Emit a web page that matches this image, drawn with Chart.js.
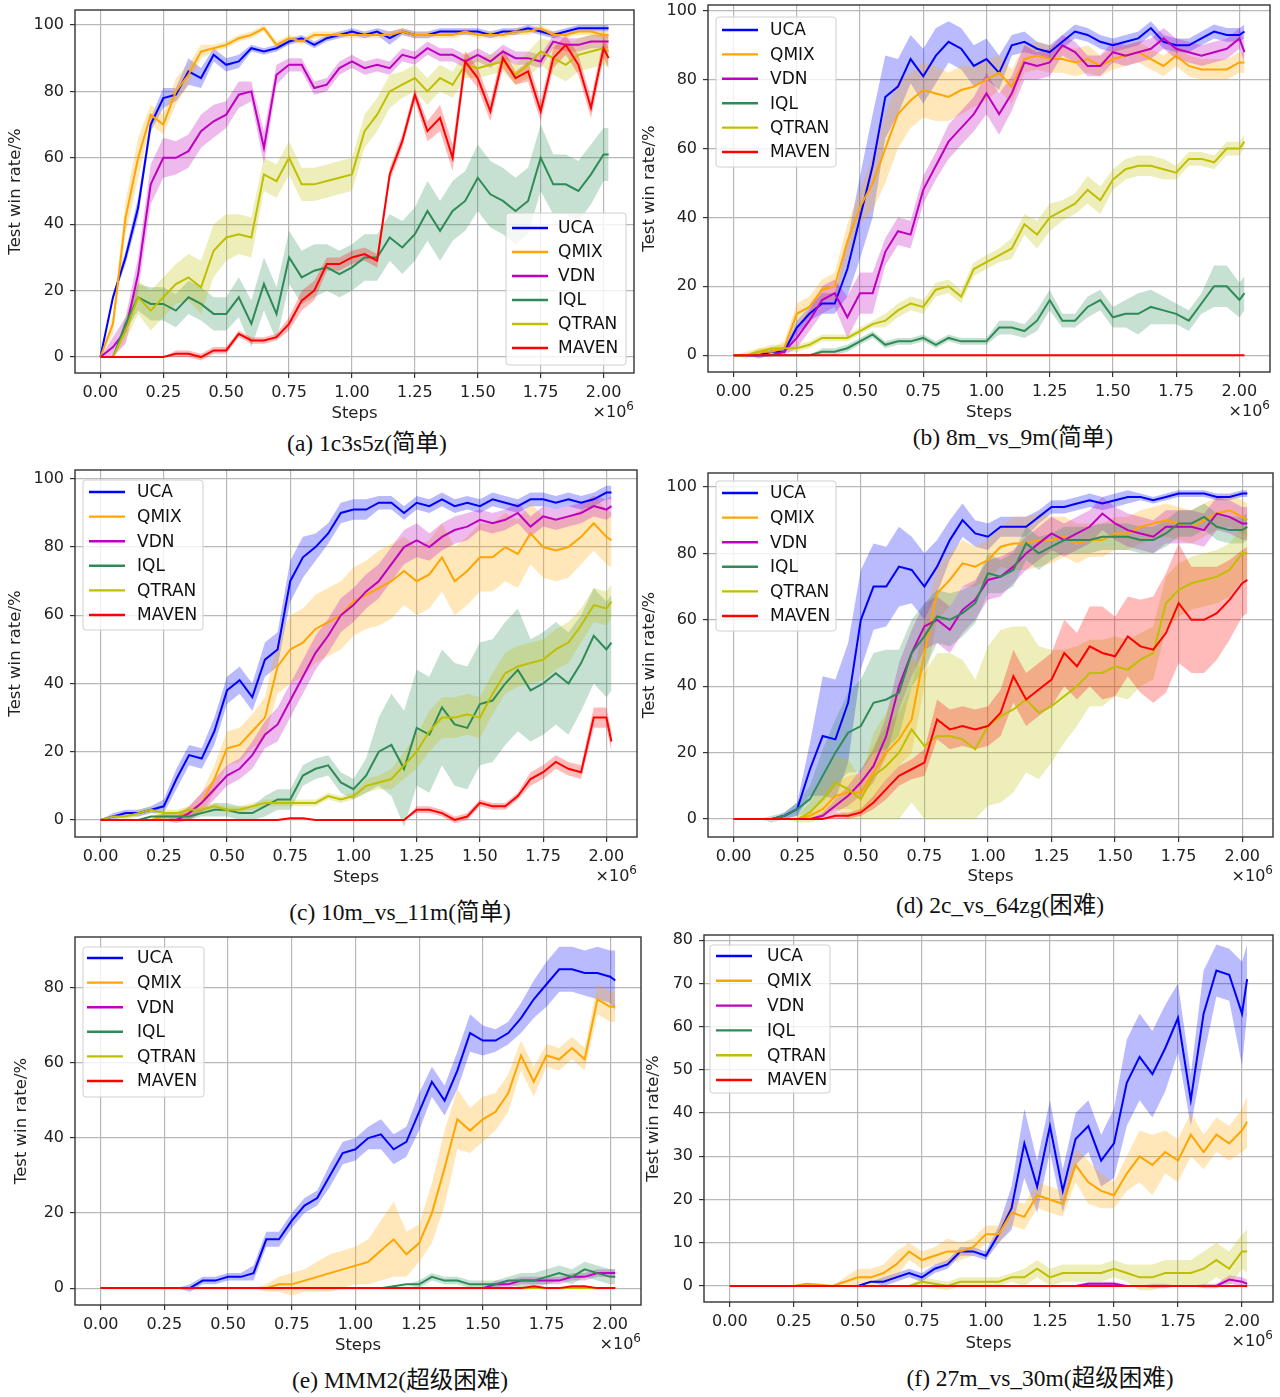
<!DOCTYPE html>
<html>
<head>
<meta charset="utf-8">
<script src="https://cdn.jsdelivr.net/npm/chart.js@4.4.1/dist/chart.umd.min.js"></script>
<style>
  html, body { margin: 0; padding: 0; background: #fff; }
  #page { position: relative; width: 1280px; height: 1397px; background: #fff; overflow: hidden; }
  canvas { position: absolute; }
  .cap { position: absolute; width: 460px; text-align: center; font-family: "Liberation Serif", "Times New Roman", "Noto Sans CJK SC", serif; font-size: 23.5px; line-height: 28px; color: #111; white-space: nowrap; }
</style>
</head>
<body>
<div id="page"></div>
<script>
// ---------- shared data ----------
const steps = [0,0.05,0.1,0.15,0.2,0.25,0.3,0.35,0.4,0.45,0.5,0.55,0.6,0.65,0.7,0.75,0.8,0.85,0.9,0.95,1.0,1.05,1.1,1.15,1.2,1.25,1.3,1.35,1.4,1.45,1.5,1.55,1.6,1.65,1.7,1.75,1.8,1.85,1.9,1.95,2.0,2.02];
const seriesNames = ['UCA','QMIX','VDN','IQL','QTRAN','MAVEN'];
const seriesColors = ['#0000ff','#ffa500','#bf00bf','#2e8b57','#bfbf00','#ff0000'];
const xTickValues = [0,0.25,0.5,0.75,1.0,1.25,1.5,1.75,2.0];
const yTicks100 = [0,20,40,60,80,100];
const yTicksE = [0,20,40,60,80];
const yTicksF = [0,10,20,30,40,50,60,70,80];
const zeros = [0,0,0,0,0,0,0,0,0,0,0,0,0,0,0,0,0,0,0,0,0,0,0,0,0,0,0,0,0,0,0,0,0,0,0,0,0,0,0,0,0,0];

// ---------- (a) 1c3s5z ----------
const aUCA    = [0,18,30,45,70,78,79,86,84,91, 88,89,93,92,93,95,96,94,96,97, 98,97,98,96,98,97,97,98,98,98, 98,97,98,98,99,98,97,98,99,99, 99,99];
const aUCAsd  = [0,1,2,3,2,3,2,4,3,2, 2,2,1,1,1,1,1,1,1,1, 1,1,1,2,1,1,1,1,1,1, 1,1,1,1,1,1,1,1,1,1, 1,1];
const aQMIX   = [0,10,42,60,73,70,80,85,92,93, 94,96,97,99,94,96,95,97,97,97, 97,97,97,97,98,97,97,97,97,98, 97,97,97,98,98,99,97,97,98,98, 97,97];
const aQMIXsd = [0,3,5,6,3,3,4,3,2,1, 1,1,1,1,1,1,1,1,1,1, 1,1,1,1,1,1,1,1,1,1, 1,1,1,1,1,1,1,1,1,1, 1,1];
const aVDN    = [0,3,8,25,52,60,60,62,68,71, 73,79,80,63,85,88,88,81,82,87, 89,87,88,87,91,90,93,91,91,89, 91,89,92,90,90,89,95,94,94,95, 95,95];
const aVDNsd  = [0,3,4,5,6,6,5,5,5,5, 4,4,3,5,3,2,2,2,2,2, 2,2,2,2,2,2,2,2,2,2, 2,2,2,2,2,2,2,2,2,2, 2,2];
const aIQL    = [0,0,10,18,16,16,14,18,16,13, 13,18,10,22,13,30,24,26,27,25, 27,30,30,36,33,37,44,38,44,47, 54,49,47,44,47,60,52,52,50,55, 61,61];
const aIQLsd  = [0,0,2,4,5,5,5,5,5,5, 5,6,7,8,8,8,8,8,7,7, 7,7,7,7,8,8,9,9,9,9, 10,10,10,10,10,10,9,9,9,9, 8,8];
const aQTRAN  = [0,0,8,18,14,18,22,24,21,32, 36,37,36,55,53,60,52,52,53,54, 55,68,73,80,82,84,80,84,82,88, 87,88,89,85,88,92,90,88,91,92, 93,92];
const aQTRANsd= [0,0,3,5,6,6,6,7,8,8, 7,6,6,5,5,5,5,5,5,5, 5,5,5,5,4,4,4,4,4,4, 3,3,3,3,4,4,5,5,5,5, 5,5];
const aMAVEN  = [0,0,0,0,0,0,1,1,0,2, 2,7,5,5,6,10,17,20,28,28, 30,31,29,55,65,79,68,72,60,89, 84,74,90,84,86,74,90,94,88,75, 93,90];
const aMAVENsd= [0,0,0,0,0,0,1,1,1,1, 1,1,1,1,1,2,3,3,2,2, 2,2,2,2,2,2,3,4,4,3, 3,3,3,2,3,3,3,3,3,3, 3,3];

// ---------- (b) 8m_vs_9m ----------
const bUCA    = [0,0,0,1,1,8,12,15,15,25, 40,55,75,78,86,81,87,91,89,84, 86,82,90,91,89,88,91,94,93,91, 90,91,92,95,91,90,90,92,94,93, 93,94];
const bUCAsd  = [0,0,1,1,1,2,2,3,3,8, 12,15,12,8,7,8,8,6,6,6, 6,5,3,3,2,2,2,2,2,2, 2,2,2,2,2,2,2,2,2,2, 2,2];
const bQMIX   = [0,0,1,1,2,12,14,19,20,33, 43,50,60,70,74,77,76,75,77,78, 80,82,78,86,87,86,86,85,86,84, 86,87,88,86,84,87,84,83,83,83, 85,85];
const bQMIXsd = [0,1,1,1,2,3,3,3,4,5, 5,8,10,10,8,8,8,7,7,6, 6,5,5,4,4,4,4,4,4,3, 3,3,3,3,3,3,3,3,3,3, 3,3];
const bVDN    = [0,0,0,0,1,5,10,16,18,11, 18,18,30,36,35,48,55,62,66,70, 76,70,76,85,84,85,90,88,84,84, 88,87,88,89,92,89,88,87,88,89, 92,88];
const bVDNsd  = [0,0,0,0,1,3,3,4,4,6, 6,6,4,4,4,4,4,5,5,5, 6,6,5,5,4,4,3,3,3,3, 3,3,3,3,3,3,3,3,3,3, 3,3];
const bIQL    = [0,0,0,0,0,0,0,1,1,2, 4,6,3,4,4,5,3,5,4,4, 4,8,8,7,10,16,10,10,14,16, 11,12,12,14,13,12,10,15,20,20, 16,18];
const bIQLsd  = [0,0,0,0,0,0,0,1,1,1, 1,1,1,1,1,1,1,1,1,1, 1,2,2,2,3,3,2,2,3,3, 3,4,6,5,4,3,3,3,6,6, 5,5];
const bQTRAN  = [0,0,1,2,2,2,3,5,5,5, 7,9,10,13,15,14,19,20,17,25, 27,29,31,38,35,40,42,44,48,45, 51,54,55,55,54,53,57,57,56,60, 60,62];
const bQTRANsd= [0,0,1,1,1,1,1,1,1,1, 1,1,2,2,2,2,2,2,2,2, 2,2,3,3,4,4,3,3,4,4, 3,3,3,3,3,2,2,2,2,2, 2,2];
const bMAVEN  = zeros;
const bMAVENsd= zeros;

// ---------- (c) 10m_vs_11m ----------
const cUCA    = [0,1,2,2,3,4,12,19,18,26, 38,41,36,47,50,70,77,80,84,90, 91,91,93,93,90,93,92,94,92,93, 92,94,93,92,94,94,93,94,93,94, 96,96];
const cUCAsd  = [0,1,1,1,1,2,3,3,3,4, 4,4,4,5,5,6,6,4,3,3, 3,3,2,2,2,2,2,2,2,2, 2,2,2,2,2,2,2,2,2,2, 2,2];
const cQMIX   = [0,0,0,0,0,1,1,2,5,12, 21,22,26,30,45,50,52,56,58,60, 64,66,68,70,73,70,72,77,70,73, 77,77,80,78,84,80,79,80,83,87, 83,82];
const cQMIXsd = [0,0,0,0,0,1,1,2,3,4, 5,5,5,6,8,10,10,10,10,10, 10,10,11,11,10,10,10,10,10,10, 10,10,10,10,9,9,9,9,8,8, 8,8];
const cVDN    = [0,0,0,0,0,0,0,2,5,9, 13,15,19,25,28,35,42,49,54,60, 63,67,70,75,80,82,80,83,85,86, 88,87,88,90,86,89,88,89,90,92, 91,92];
const cVDNsd  = [0,0,0,0,0,0,1,2,3,3, 3,3,4,4,5,5,5,5,5,5, 5,5,5,5,5,5,4,4,4,4, 3,3,3,3,3,3,3,3,3,3, 3,3];
const cIQL    = [0,0,0,0,1,1,1,1,2,3, 3,2,2,4,6,6,13,15,16,11, 9,13,20,22,15,27,25,33,28,27, 34,35,40,44,38,40,43,40,46,54, 50,52];
const cIQLsd  = [0,0,0,0,0,1,1,1,1,2, 2,2,2,3,3,3,3,3,3,3, 3,5,10,15,17,17,17,17,18,18, 18,18,18,18,15,15,15,15,14,14, 14,14];
const cQTRAN  = [0,1,1,2,3,2,2,3,3,4, 3,3,4,5,5,5,5,5,7,6, 7,10,11,12,16,20,26,30,30,31, 30,37,43,45,46,47,50,52,57,63, 62,64];
const cQTRANsd= [0,0,1,1,1,1,1,1,1,1, 1,1,1,1,1,1,1,1,1,1, 1,2,2,3,4,5,6,6,6,6, 6,6,6,6,6,6,6,6,5,5, 5,5];
const cMAVEN  = [0,0,0,0,0,0,0,0,0,0, 0,0,0,0,0,0.5,0.5,0,0,0, 0,0,0,0,0,3,3,2,0,1, 5,4,4,7,12,14,17,15,14,30, 30,23];
const cMAVENsd= [0,0,0,0,0,0,0,0,0,0, 0,0,0,0,0,0,0,0,0,0, 0,0,0,0,0,1,1,1,1,1, 1,1,1,1,2,2,2,2,2,3, 3,3];

// ---------- (d) 2c_vs_64zg ----------
const dUCA    = [0,0,0,0,1,3,15,25,24,35, 60,70,70,76,75,70,76,84,90,86, 85,88,88,88,91,94,94,95,96,95, 96,97,97,96,97,98,98,98,97,97, 98,98];
const dUCAsd  = [0,0,0,0,1,2,8,18,18,18, 15,13,12,12,10,10,8,6,5,4, 4,3,3,3,2,2,2,2,2,2, 2,2,1,1,1,1,1,1,1,1, 1,1];
const dQMIX   = [0,0,0,0,0,0,1,3,7,8, 8,14,20,24,30,50,68,72,77,76, 78,82,83,83,84,84,85,83,84,84, 86,86,88,89,90,89,88,90,92,93, 91,90];
const dQMIXsd = [0,0,0,0,0,0,1,2,4,5, 6,8,8,8,10,10,8,8,7,6, 6,6,8,8,8,7,6,6,5,5, 5,5,5,5,5,5,5,5,5,5, 5,5];
const dVDN    = [0,0,0,0,0,0,0,1,4,7, 11,16,25,40,50,58,60,57,63,66, 72,73,76,80,83,86,84,86,88,92, 89,87,86,85,88,88,88,87,92,91, 89,89];
const dVDNsd  = [0,0,0,0,0,0,0,1,2,3, 4,5,6,7,7,7,7,7,7,6, 6,6,5,5,5,5,5,5,5,5, 5,5,5,5,5,5,5,5,5,5, 5,5];
const dIQL    = [0,0,0,0,1,3,6,13,20,26, 28,35,36,38,50,55,61,60,62,65, 74,73,75,83,80,82,84,84,84,85, 85,85,84,84,86,89,89,91,88,87, 87,88];
const dIQLsd  = [0,0,0,1,1,2,4,8,10,12, 14,15,15,13,10,10,8,8,7,6, 6,5,5,5,5,4,4,4,4,4, 4,4,4,4,4,4,4,4,4,4, 4,4];
const dQTRAN  = [0,0,0,0,0,0,2,6,11,9, 6,13,16,20,27,22,25,25,24,21, 28,31,33,36,32,34,37,40,44,44, 46,45,48,50,65,69,71,72,73,75, 80,80];
const dQTRANsd= [0,0,0,0,0,1,3,6,8,9, 6,13,16,20,22,22,25,25,24,21, 24,26,25,22,20,17,14,12,10,10, 9,9,8,8,8,8,8,8,8,8, 8,8];
const dMAVEN  = [0,0,0,0,0,0,0,0,1,1, 2,5,9,13,15,17,30,27,28,27, 28,32,43,36,39,42,50,46,52,50, 49,55,52,51,56,65,60,60,62,66, 71,72];
const dMAVENsd= [0,0,0,0,0,0,0,0,1,1, 1,2,3,3,3,4,6,6,6,6, 6,7,8,8,8,8,10,10,12,14, 12,12,14,16,18,18,16,16,14,12, 10,10];

// ---------- (e) MMM2 ----------
const eUCA    = [0,0,0,0,0,0,0,0,2,2, 3,3,4,13,13,18,22,24,30,36, 37,40,41,37,39,47,55,50,58,68, 66,66,68,72,77,81,85,85,84,84, 83,82];
const eUCAsd  = [0,0,0,0,0,0,0,1,1,1, 1,1,2,2,2,2,2,2,3,3, 3,3,4,4,4,5,4,4,5,5, 4,3,3,4,5,6,6,6,6,7, 7,8];
const eQMIX   = [0,0,0,0,0,0,0,0,0,0, 0,0,0,0,1,1,2,3,4,5, 6,7,10,13,9,12,20,32,45,42, 45,47,52,62,55,62,61,64,61,77, 75,75];
const eQMIXsd = [0,0,0,0,0,0,0,0,0,0, 0,0,0,1,2,3,3,4,5,5, 5,6,8,10,6,5,8,10,8,6, 6,5,5,4,4,3,3,3,3,4, 4,4];
const eVDN    = [0,0,0,0,0,0,0,0,0,0, 0,0,0,0,0,0,0,0,0,0, 0,0,0,0,0,0,0,0,0,0, 0,1,1,2,2,2,2,3,3,4, 4,4];
const eVDNsd  = [0,0,0,0,0,0,0,0,0,0, 0,0,0,0,0,0,0,0,0,0, 0,0,0,0,0,0,0,0,0,0, 0,1,1,1,1,1,1,1,1,1, 1,1];
const eIQL    = [0,0,0,0,0,0,0,0,0,0, 0,0,0,0,0,0,0,0,0,0, 0,0,0,0.5,1,1,3,2,2,1, 1,1,2,2,2,3,4,3,5,4, 3,3];
const eIQLsd  = [0,0,0,0,0,0,0,0,0,0, 0,0,0,0,0,0,0,0,0,0, 0,0,0,0,0,1,1,1,1,1, 1,1,1,2,2,2,2,2,2,2, 2,2];
const eQTRAN  = zeros;
const eQTRANsd= zeros;
const eMAVEN  = [0,0,0,0,0,0,0,0,0,0, 0,0,0,0,0,0,0,0,0,0, 0,0,0,0,0,0,0,0,0,0, 0,0,0,0,0.5,0,0,0.5,0.5,0, 0,0];
const eMAVENsd= zeros;

// ---------- (f) 27m_vs_30m ----------
const fUCA    = [0,0,0,0,0,0,0,0,0,0, 0,1,1,2,3,2,4,5,8,8, 7,12,18,33,23,37,22,34,37,29, 33,47,53,49,55,62,43,63,73,72, 63,71];
const fUCAsd  = [0,0,0,0,0,0,0,0,0,0, 0,0,1,1,1,1,1,1,1,1, 1,2,5,8,6,6,5,6,6,6, 8,10,10,10,10,8,6,10,6,6, 12,8];
const fQMIX   = [0,0,0,0,0,0,0.5,0.3,0,1, 2,2,3,5,8,6,7,8,8,9, 12,12,17,16,21,20,19,28,24,22, 21,26,30,28,31,29,35,31,35,33, 36,38];
const fQMIXsd = [0,0,0,0,0,0,0,0,0,1, 2,2,2,3,2,2,2,3,2,2, 2,2,3,3,3,3,3,4,5,4, 3,4,6,7,5,5,5,4,4,4, 5,6];
const fVDN    = [0,0,0,0,0,0,0,0,0,0, 0,0,0,0,0,0,0,0,0,0, 0,0,0,0,0,0,0,0,0.5,0.5, 0.5,0,0,0,0,0,0,0,0,1.5, 1,0.5];
const fVDNsd  = [0,0,0,0,0,0,0,0,0,0, 0,0,0,0,0,0,0,0,0,0, 0,0,0,0,0,0,0,0,0.5,0.5, 0.5,0,0,0.5,0.5,0,0,0.5,0.5,1, 1,1];
const fIQL    = zeros;
const fIQLsd  = zeros;
const fQTRAN  = [0,0,0,0,0,0,0,0,0,0, 0,0,0,0,0,1,0.5,0,1,1, 1,1,2,2,4,2,3,3,3,3, 4,3,2,2,3,3,3,4,6,4, 8,8];
const fQTRANsd= [0,0,0,0,0,0,0,0,0,0, 0,0,0,0,0,1,1,1,1,1, 1,1,1,2,2,2,2,2,2,2, 2,2,3,3,3,3,3,4,4,4, 4,5];
const fMAVEN  = zeros;
const fMAVENsd= zeros;

const captions = ['(a) 1c3s5z(简单)','(b) 8m_vs_9m(简单)','(c) 10m_vs_11m(简单)','(d) 2c_vs_64zg(困难)','(e) MMM2(超级困难)','(f) 27m_vs_30m(超级困难)'];

// ---------- layout (page pixel geometry) ----------
const panels = [
  { series: [[aUCA,aUCAsd],[aQMIX,aQMIXsd],[aVDN,aVDNsd],[aIQL,aIQLsd],[aQTRAN,aQTRANsd],[aMAVEN,aMAVENsd]],
    yMin:-4.8, yMax:104.5, yTicks:yTicks100,
    cv:{x:0,y:0,w:640,h:424}, frame:{l:75,t:10,r:634,b:373}, yTitlePad:6,
    legend:{x:506,y:213,w:120,h:152,first:228,gap:24,lx:512,tx:558},
    cap:{cx:367,cy:443} },
  { series: [[bUCA,bUCAsd],[bQMIX,bQMIXsd],[bVDN,bVDNsd],[bIQL,bIQLsd],[bQTRAN,bQTRANsd],[bMAVEN,bMAVENsd]],
    yMin:-4.9, yMax:101.7, yTicks:yTicks100,
    cv:{x:640,y:0,w:640,h:423}, frame:{l:708,t:5,r:1270,b:372}, yTitlePad:0,
    legend:{x:716,y:17,w:120,h:150,first:30,gap:24.4,lx:722,tx:770},
    cap:{cx:1013,cy:437} },
  { series: [[cUCA,cUCAsd],[cQMIX,cQMIXsd],[cVDN,cVDNsd],[cIQL,cIQLsd],[cQTRAN,cQTRANsd],[cMAVEN,cMAVENsd]],
    yMin:-5.0, yMax:102.6, yTicks:yTicks100,
    cv:{x:0,y:460,w:640,h:428}, frame:{l:75,t:470,r:637,b:837}, yTitlePad:6,
    legend:{x:83,y:480,w:120,h:150,first:492,gap:24.6,lx:89,tx:137},
    cap:{cx:400,cy:912} },
  { series: [[dUCA,dUCAsd],[dQMIX,dQMIXsd],[dVDN,dVDNsd],[dIQL,dIQLsd],[dQTRAN,dQTRANsd],[dMAVEN,dMAVENsd]],
    yMin:-5.4, yMax:104.2, yTicks:yTicks100,
    cv:{x:640,y:460,w:640,h:427}, frame:{l:708,t:473,r:1273,b:837}, yTitlePad:0,
    legend:{x:716,y:481,w:120,h:150,first:493,gap:24.6,lx:722,tx:770},
    cap:{cx:1000,cy:905} },
  { series: [[eUCA,eUCAsd],[eQMIX,eQMIXsd],[eVDN,eVDNsd],[eIQL,eIQLsd],[eQTRAN,eQTRANsd],[eMAVEN,eMAVENsd]],
    yMin:-4.5, yMax:93.6, yTicks:yTicksE,
    cv:{x:0,y:925,w:645,h:431}, frame:{l:75,t:937,r:641,b:1305}, yTitlePad:12,
    legend:{x:83,y:947,w:121,h:150,first:958,gap:24.6,lx:87,tx:137},
    cap:{cx:400,cy:1380} },
  { series: [[fUCA,fUCAsd],[fQMIX,fQMIXsd],[fVDN,fVDNsd],[fIQL,fIQLsd],[fQTRAN,fQTRANsd],[fMAVEN,fMAVENsd]],
    yMin:-3.7, yMax:81.2, yTicks:yTicksF,
    cv:{x:640,y:925,w:640,h:429}, frame:{l:704,t:935,r:1273,b:1302}, yTitlePad:4,
    legend:{x:710,y:945,w:120,h:148,first:956,gap:24.8,lx:716,tx:767},
    cap:{cx:1040,cy:1378} }
];

const FONT = '"DejaVu Sans", Verdana, sans-serif';
const page = document.getElementById('page');

function hexA(hex, a) {
  const r = parseInt(hex.slice(1,3),16), g = parseInt(hex.slice(3,5),16), b = parseInt(hex.slice(5,7),16);
  return `rgba(${r},${g},${b},${a})`;
}

panels.forEach((p, pi) => {
  const cv = document.createElement('canvas');
  cv.width = p.cv.w; cv.height = p.cv.h;
  cv.style.left = p.cv.x + 'px'; cv.style.top = p.cv.y + 'px';
  cv.style.width = p.cv.w + 'px'; cv.style.height = p.cv.h + 'px';
  page.appendChild(cv);

  const cap = document.createElement('div');
  cap.className = 'cap';
  cap.textContent = captions[pi];
  cap.style.left = (p.cap.cx - 230) + 'px';
  cap.style.top = (p.cap.cy - 14) + 'px';
  page.appendChild(cap);

  const yW = p.frame.l - p.cv.x;
  const xH = p.cv.y + p.cv.h - p.frame.b;
  const padTop = p.frame.t - p.cv.y;
  const padRight = p.cv.x + p.cv.w - p.frame.r;

  const datasets = [];
  p.series.forEach((s, k) => {
    const mean = s[0], sd = s[1];
    const col = seriesColors[k];
    datasets.push({ data: steps.map((x,i) => ({x, y: mean[i] + sd[i]})), borderWidth: 0, borderColor: 'rgba(0,0,0,0)', pointRadius: 0, fill: false, order: 100 + (5 - k), tension: 0 });
    datasets.push({ data: steps.map((x,i) => ({x, y: mean[i] - sd[i]})), borderWidth: 0, borderColor: 'rgba(0,0,0,0)', pointRadius: 0, fill: '-1', backgroundColor: hexA(col, 0.27), order: 100 + (5 - k), tension: 0 });
    datasets.push({ label: seriesNames[k], data: steps.map((x,i) => ({x, y: mean[i]})), borderWidth: 2, borderColor: col, pointRadius: 0, fill: false, order: 10 + (5 - k), tension: 0 });
  });

  const decor = {
    id: 'decor' + pi,
    afterDraw(chart) {
      const ctx = chart.ctx, ca = chart.chartArea;
      ctx.save();
      // frame
      ctx.strokeStyle = '#333';
      ctx.lineWidth = 1.4;
      ctx.strokeRect(ca.left, ca.top, ca.right - ca.left, ca.bottom - ca.top);
      // x10^6 offset text
      ctx.fillStyle = '#222';
      ctx.textBaseline = 'alphabetic';
      ctx.font = '12px ' + FONT;
      const w6 = ctx.measureText('6').width;
      ctx.textAlign = 'left';
      ctx.fillText('6', ca.right - w6, ca.bottom + 37);
      ctx.font = '16px ' + FONT;
      ctx.textAlign = 'right';
      ctx.fillText('\u00d710', ca.right - w6, ca.bottom + 44);
      // legend
      const L = p.legend, ox = p.cv.x, oy = p.cv.y;
      const bx = L.x - ox, by = L.y - oy;
      ctx.beginPath();
      const r = 3;
      ctx.moveTo(bx + r, by);
      ctx.lineTo(bx + L.w - r, by); ctx.quadraticCurveTo(bx + L.w, by, bx + L.w, by + r);
      ctx.lineTo(bx + L.w, by + L.h - r); ctx.quadraticCurveTo(bx + L.w, by + L.h, bx + L.w - r, by + L.h);
      ctx.lineTo(bx + r, by + L.h); ctx.quadraticCurveTo(bx, by + L.h, bx, by + L.h - r);
      ctx.lineTo(bx, by + r); ctx.quadraticCurveTo(bx, by, bx + r, by);
      ctx.closePath();
      ctx.fillStyle = 'rgba(255,255,255,0.8)';
      ctx.fill();
      ctx.strokeStyle = '#d0d0d0';
      ctx.lineWidth = 1;
      ctx.stroke();
      ctx.font = '17px ' + FONT;
      ctx.textAlign = 'left';
      ctx.textBaseline = 'middle';
      seriesNames.forEach((nm, k) => {
        const yy = L.first + k * L.gap - oy;
        ctx.strokeStyle = seriesColors[k];
        ctx.lineWidth = 2.4;
        ctx.beginPath();
        ctx.moveTo(L.lx - ox, yy); ctx.lineTo(L.lx - ox + 36, yy);
        ctx.stroke();
        ctx.fillStyle = '#111';
        ctx.fillText(nm, L.tx - ox, yy + 1);
      });
      ctx.restore();
    }
  };

  new Chart(cv, {
    type: 'line',
    data: { datasets },
    options: {
      responsive: false, animation: false, devicePixelRatio: 1,
      layout: { padding: { top: padTop, right: padRight, left: 0, bottom: 0 } },
      plugins: { legend: { display: false }, tooltip: { enabled: false } },
      scales: {
        x: {
          type: 'linear', min: -0.101, max: 2.121,
          afterBuildTicks: s => { s.ticks = xTickValues.map(v => ({ value: v })); },
          afterFit: s => { s.height = xH; s.paddingLeft = 0; s.paddingRight = 0; s.paddingTop = 0; s.paddingBottom = 0; },
          ticks: { callback: v => Number(v).toFixed(2), font: { family: FONT, size: 16 }, color: '#222', padding: 5, maxRotation: 0, autoSkip: false },
          grid: { color: '#b8b8b8', lineWidth: 1.2, tickLength: 5, tickColor: '#333', drawTicks: true },
          border: { display: false },
          title: { display: true, text: 'Steps', font: { family: FONT, size: 16.5 }, color: '#222', padding: { top: 0, bottom: 0 } }
        },
        y: {
          type: 'linear', min: p.yMin, max: p.yMax,
          afterBuildTicks: s => { s.ticks = p.yTicks.map(v => ({ value: v })); },
          afterFit: s => { s.width = yW; s.paddingTop = 0; s.paddingBottom = 0; s.paddingLeft = 0; s.paddingRight = 0; },
          ticks: { callback: v => String(v), font: { family: FONT, size: 16 }, color: '#222', padding: 6 },
          grid: { color: '#b8b8b8', lineWidth: 1.2, tickLength: 5, tickColor: '#333', drawTicks: true },
          border: { display: false },
          title: { display: true, text: 'Test win rate/%', font: { family: FONT, size: 16.5 }, color: '#222', padding: { top: p.yTitlePad, bottom: 0 } }
        }
      }
    },
    plugins: [decor]
  });
});
</script>
</body>
</html>
